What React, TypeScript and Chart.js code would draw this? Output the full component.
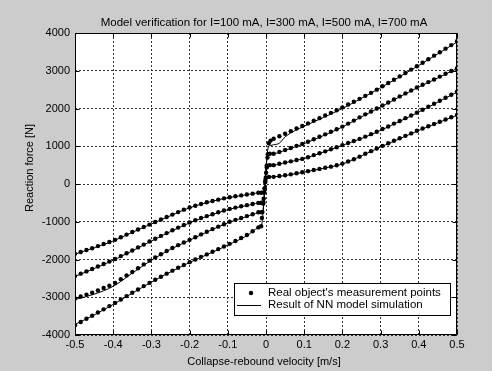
import React, { useEffect, useRef } from 'react';
import { Chart, registerables } from 'chart.js';

Chart.register(...registerables);

const FONT = '"Liberation Sans", Arial, Helvetica, sans-serif';

const TITLE = 'Model verification for I=100 mA, I=300 mA, I=500 mA, I=700 mA';
const X_TITLE = 'Collapse-rebound velocity [m/s]';
const Y_TITLE = 'Reaction force [N]';
const LEGEND_LABELS = ["Real object's measurement points", 'Result of NN model simulation'];

const X_TICKS = [-0.5, -0.4, -0.3, -0.2, -0.1, 0, 0.1, 0.2, 0.3, 0.4, 0.5];
const Y_TICKS = [-4000, -3000, -2000, -1000, 0, 1000, 2000, 3000, 4000];

// measurement x positions (both branches)
const X_NEG = [-0.5, -0.485, -0.47, -0.455, -0.44, -0.425, -0.41, -0.395, -0.38, -0.365, -0.35, -0.335, -0.32, -0.305, -0.29, -0.275, -0.26, -0.245, -0.23, -0.215, -0.2, -0.185, -0.17, -0.155, -0.14, -0.125, -0.11, -0.095, -0.08, -0.065, -0.05, -0.035, -0.02];
const X_POS = [0.02, 0.035, 0.05, 0.065, 0.08, 0.095, 0.11, 0.125, 0.14, 0.155, 0.17, 0.185, 0.2, 0.215, 0.23, 0.245, 0.26, 0.275, 0.29, 0.305, 0.32, 0.335, 0.35, 0.365, 0.38, 0.395, 0.41, 0.425, 0.44, 0.455, 0.47, 0.485, 0.5];

// I = 100 mA measurements
const MEAS_I100_NEG = [-1850, -1800, -1750, -1700, -1645, -1590, -1535, -1480, -1410, -1340, -1270, -1205, -1140, -1075, -1005, -940, -875, -810, -745, -680, -620, -575, -530, -485, -450, -415, -380, -350, -325, -302, -280, -255, -230];
const NEAR_X_I100 = [-0.012, -0.005, -0.0035, -0.002, -0.0005, 0.008];
const NEAR_Y_I100 = [-232, -225, -110, 50, 175, 188];
const MEAS_I100_POS = [190, 210, 230, 255, 283, 310, 340, 370, 400, 430, 460, 495, 540, 595, 655, 725, 800, 870, 940, 1010, 1080, 1145, 1210, 1275, 1340, 1410, 1470, 1530, 1590, 1650, 1710, 1770, 1830];

// I = 300 mA measurements
const MEAS_I300_NEG = [-2440, -2375, -2315, -2250, -2185, -2120, -2055, -1985, -1910, -1835, -1760, -1680, -1605, -1525, -1450, -1375, -1300, -1225, -1155, -1085, -1020, -960, -900, -850, -800, -750, -700, -660, -625, -590, -560, -530, -500];
const NEAR_X_I300 = [-0.012, -0.007, -0.0045, -0.0015, 0.002, 0.01];
const NEAR_Y_I300 = [-498, -490, -220, 110, 440, 500];
const MEAS_I300_POS = [500, 535, 570, 600, 635, 665, 710, 765, 815, 865, 920, 975, 1030, 1085, 1140, 1195, 1255, 1320, 1385, 1455, 1525, 1600, 1670, 1745, 1815, 1890, 1965, 2045, 2125, 2205, 2285, 2365, 2445];

// I = 500 mA measurements
const MEAS_I500_NEG = [-3030, -2980, -2930, -2880, -2820, -2755, -2695, -2620, -2520, -2425, -2330, -2230, -2130, -2030, -1945, -1860, -1775, -1695, -1620, -1550, -1480, -1410, -1335, -1265, -1195, -1130, -1065, -1000, -950, -900, -850, -800, -750];
const NEAR_X_I500 = [-0.012, -0.0093, -0.006, -0.002, 0.002, 0.0047, 0.01];
const NEAR_Y_I500 = [-750, -745, -390, 50, 490, 790, 800];
const MEAS_I500_POS = [800, 850, 900, 955, 1010, 1060, 1120, 1185, 1250, 1315, 1385, 1450, 1520, 1600, 1680, 1765, 1845, 1920, 2000, 2080, 2160, 2240, 2320, 2400, 2475, 2555, 2630, 2700, 2770, 2845, 2920, 2995, 3070];

// I = 700 mA measurements
const MEAS_I700_NEG = [-3740, -3655, -3570, -3490, -3405, -3320, -3235, -3150, -3060, -2970, -2880, -2795, -2705, -2620, -2535, -2455, -2375, -2295, -2220, -2145, -2070, -2000, -1930, -1865, -1795, -1725, -1655, -1585, -1510, -1430, -1350, -1250, -1150];
const NEAR_X_I700 = [-0.0127, -0.0107, -0.0072, -0.0036, 0.0002, 0.0039, 0.0073, 0.012];
const NEAR_Y_I700 = [-1120, -900, -520, -120, 300, 700, 1080, 1150];
const MEAS_I700_POS = [1200, 1265, 1330, 1400, 1470, 1535, 1605, 1675, 1745, 1815, 1885, 1955, 2030, 2105, 2180, 2255, 2335, 2415, 2500, 2590, 2675, 2760, 2850, 2940, 3030, 3120, 3210, 3305, 3400, 3490, 3585, 3680, 3780];

// NN model simulation
const SIM_X_NEG = [-0.5, -0.45, -0.4, -0.35, -0.3, -0.25, -0.2, -0.15, -0.1, -0.05, -0.02];
const SIM_X_POS = [0.05, 0.1, 0.15, 0.2, 0.25, 0.3, 0.35, 0.4, 0.45, 0.5];

const SIM_I100_NEG = [-1860, -1690, -1510, -1280, -1060, -840, -630, -480, -365, -285, -240];
const SIM_NEAR_X_I100 = [-0.0046, -0.0009, 0.02];
const SIM_NEAR_Y_I100 = [-235, 180, 190];
const SIM_I100_POS = [225, 315, 415, 530, 745, 980, 1200, 1420, 1620, 1820];

const SIM_I300_NEG = [-2450, -2240, -2020, -1770, -1510, -1260, -1030, -840, -680, -570, -510];
const SIM_NEAR_X_I300 = [-0.007, 0.002, 0.02];
const SIM_NEAR_Y_I300 = [-500, 490, 505];
const SIM_I300_POS = [565, 675, 845, 1025, 1205, 1420, 1660, 1905, 2170, 2435];

const SIM_I500_NEG = [-3060, -2920, -2710, -2360, -2020, -1730, -1490, -1250, -1030, -860, -770];
const SIM_NEAR_X_I500 = [-0.0093, 0.0045, 0.02];
const SIM_NEAR_Y_I500 = [-750, 770, 805];
const SIM_I500_POS = [895, 1070, 1280, 1510, 1780, 2040, 2310, 2570, 2810, 3060];

const SIM_I700_NEG = [-3720, -3470, -3190, -2890, -2600, -2330, -2080, -1850, -1620, -1370, -1170];
const SIM_NEAR_X_I700 = [-0.0128, 0.0065, 0.012, 0.02, 0.035];
const SIM_NEAR_Y_I700 = [-1140, 990, 1020, 1040, 1080];
const SIM_I700_POS = [1250, 1530, 1760, 2000, 2270, 2550, 2840, 3140, 3450, 3760];

type Pt = { x: number; y: number };
const zip = (xs: number[], ys: number[]): Pt[] => xs.map((x, i) => ({ x, y: ys[i] }));

const measSeries = (neg: number[], nx: number[], ny: number[], pos: number[]): Pt[] => [
  ...zip(X_NEG, neg),
  ...zip(nx, ny),
  ...zip(X_POS, pos),
];
const simSeries = (neg: number[], nx: number[], ny: number[], pos: number[]): Pt[] => [
  ...zip(SIM_X_NEG, neg),
  ...zip(nx, ny),
  ...zip(SIM_X_POS, pos),
];

const decoPlugin = {
  id: 'matlabDeco',
  beforeDraw(chart: any) {
    const { ctx, chartArea: a, width, height } = chart;
    ctx.save();
    ctx.fillStyle = '#cccccc';
    ctx.fillRect(0, 0, width, height);
    ctx.fillStyle = '#ffffff';
    ctx.fillRect(a.left, a.top, a.right - a.left, a.bottom - a.top);
    ctx.restore();
  },
  afterDraw(chart: any) {
    const { ctx, chartArea: a, scales } = chart;
    const xs = scales.x;
    const ys = scales.y;
    const L = Math.round(a.left) + 0.5;
    const R = Math.round(a.right) - 0.5;
    const T = Math.round(a.top) + 0.5;
    const B = Math.round(a.bottom) - 0.5;
    ctx.save();
    ctx.strokeStyle = '#000';
    ctx.lineWidth = 1;
    ctx.setLineDash([]);
    ctx.beginPath();
    ctx.rect(L, T, R - L, B - T);
    ctx.stroke();
    // inward tick marks
    ctx.beginPath();
    X_TICKS.forEach((v) => {
      const p = Math.round(xs.getPixelForValue(v)) + 0.5;
      ctx.moveTo(p, B);
      ctx.lineTo(p, B - 4);
      ctx.moveTo(p, T);
      ctx.lineTo(p, T + 4);
    });
    Y_TICKS.forEach((v) => {
      const p = Math.round(ys.getPixelForValue(v)) + 0.5;
      ctx.moveTo(L, p);
      ctx.lineTo(L + 4, p);
      ctx.moveTo(R, p);
      ctx.lineTo(R - 4, p);
    });
    ctx.stroke();

    // titles
    ctx.fillStyle = '#000';
    ctx.textAlign = 'center';
    ctx.textBaseline = 'middle';
    ctx.font = `11.5px ${FONT}`;
    ctx.fillText(TITLE, 264, 23);
    ctx.font = `11px ${FONT}`;
    ctx.fillText(X_TITLE, 264, 362);
    ctx.save();
    ctx.translate(30, 168);
    ctx.rotate(-Math.PI / 2);
    ctx.fillText(Y_TITLE, 0, 0);
    ctx.restore();

    // legend
    ctx.fillStyle = '#ffffff';
    ctx.fillRect(234, 283, 216, 32);
    ctx.strokeStyle = '#000';
    ctx.strokeRect(234.5, 283.5, 216, 32);
    ctx.fillStyle = '#000';
    ctx.beginPath();
    ctx.arc(251, 293, 2.2, 0, Math.PI * 2);
    ctx.fill();
    ctx.beginPath();
    ctx.moveTo(237, 305.5);
    ctx.lineTo(261, 305.5);
    ctx.stroke();
    ctx.font = `11.5px ${FONT}`;
    ctx.textAlign = 'left';
    ctx.fillText(LEGEND_LABELS[0], 268, 293);
    ctx.fillText(LEGEND_LABELS[1], 268, 305);
    ctx.restore();
  },
};

export default function App() {
  const ref = useRef<HTMLCanvasElement | null>(null);

  useEffect(() => {
    if (!ref.current) return;
    const meas = [
      measSeries(MEAS_I100_NEG, NEAR_X_I100, NEAR_Y_I100, MEAS_I100_POS),
      measSeries(MEAS_I300_NEG, NEAR_X_I300, NEAR_Y_I300, MEAS_I300_POS),
      measSeries(MEAS_I500_NEG, NEAR_X_I500, NEAR_Y_I500, MEAS_I500_POS),
      measSeries(MEAS_I700_NEG, NEAR_X_I700, NEAR_Y_I700, MEAS_I700_POS),
    ];
    const sims = [
      simSeries(SIM_I100_NEG, SIM_NEAR_X_I100, SIM_NEAR_Y_I100, SIM_I100_POS),
      simSeries(SIM_I300_NEG, SIM_NEAR_X_I300, SIM_NEAR_Y_I300, SIM_I300_POS),
      simSeries(SIM_I500_NEG, SIM_NEAR_X_I500, SIM_NEAR_Y_I500, SIM_I500_POS),
      simSeries(SIM_I700_NEG, SIM_NEAR_X_I700, SIM_NEAR_Y_I700, SIM_I700_POS),
    ];
    const datasets: any[] = [];
    meas.forEach((d, i) =>
      datasets.push({
        label: `meas${i}`,
        data: d,
        showLine: false,
        pointRadius: 2.2,
        pointBorderWidth: 0,
        pointBackgroundColor: '#000',
        pointBorderColor: '#000',
      })
    );
    sims.forEach((d, i) =>
      datasets.push({
        label: `sim${i}`,
        data: d,
        showLine: true,
        pointRadius: 0,
        borderColor: '#000',
        borderWidth: 1,
        cubicInterpolationMode: 'monotone',
        fill: false,
      })
    );

    const chart = new Chart(ref.current, {
      type: 'scatter',
      data: { datasets },
      options: {
        animation: false,
        responsive: false,
        devicePixelRatio: 1,
        events: [],
        layout: { padding: { left: 0, right: 35, top: 33, bottom: 0 } },
        plugins: {
          legend: { display: false },
          title: { display: false },
          tooltip: { enabled: false },
        },
        scales: {
          x: {
            type: 'linear',
            min: -0.5,
            max: 0.5,
            afterFit: (s: any) => {
              s.height = 36;
            },
            afterBuildTicks: (s: any) => {
              s.ticks = X_TICKS.map((v) => ({ value: v }));
            },
            ticks: {
              autoSkip: false,
              maxRotation: 0,
              padding: 3,
              color: '#000',
              font: { family: FONT, size: 11 },
              callback: (v: any) => String(Number(Number(v).toFixed(1))),
            },
            grid: { color: '#333', lineWidth: 1, drawTicks: false },
            border: { display: false, dash: [2, 2] },
          },
          y: {
            type: 'linear',
            min: -4000,
            max: 4000,
            afterFit: (s: any) => {
              s.width = 75;
            },
            afterBuildTicks: (s: any) => {
              s.ticks = Y_TICKS.map((v) => ({ value: v }));
            },
            ticks: {
              padding: 5,
              color: '#000',
              font: { family: FONT, size: 11 },
              callback: (v: any) => String(v),
            },
            grid: { color: '#333', lineWidth: 1, drawTicks: false },
            border: { display: false, dash: [2, 2] },
          },
        },
      },
      plugins: [decoPlugin],
    });
    return () => chart.destroy();
  }, []);

  return (
    <div style={{ position: 'absolute', left: 0, top: 0, width: 492, height: 371 }}>
      <canvas ref={ref} width={492} height={371} style={{ display: 'block', width: 492, height: 371 }} />
    </div>
  );
}
